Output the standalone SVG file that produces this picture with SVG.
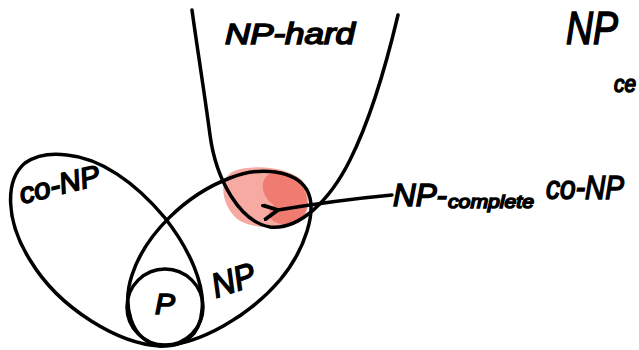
<svg xmlns="http://www.w3.org/2000/svg" width="639" height="350" viewBox="0 0 639 350">
<style>
.ln{fill:none;stroke:#000;stroke-width:3.5;stroke-linecap:round;stroke-linejoin:round}
.t{font-family:"Liberation Sans","DejaVu Sans",sans-serif;fill:#000;stroke:#000;stroke-width:1.6;font-style:italic}
</style>
<defs>
<marker id="ah" viewBox="0 0 10 10" refX="1" refY="5" markerWidth="5" markerHeight="5" orient="auto-start-reverse">
<path d="M9,1 L1,5 L9,9" fill="none" stroke="#000" stroke-width="2.2" stroke-linecap="round"/>
</marker>
</defs>
<rect width="639" height="350" fill="#fff"/>
<g id="npc-blob">
<path d="M232,172 C250,164 285,166 302,180 C312,195 310,218 296,224 C275,230 248,228 236,218 C222,205 218,180 232,172 Z" fill="#f6aaa1"/>
<path d="M270,174 C290,170 306,182 307,200 C308,215 300,224 282,224 C268,222 266,212 274,205 C262,198 258,180 270,174 Z" fill="#f07b71"/>
</g>
<g id="co-np">
<path class="ln" d="M67,155 C100,158 135,182 165,218 C190,250 205,285 202,310 C200,335 185,347 160,346 C120,344 60,310 30,260 C5,220 5,180 25,163 C38,154 52,153 67,155 Z"/>
<text class="t" x="22" y="204" font-size="29" textLength="82" lengthAdjust="spacingAndGlyphs" transform="rotate(-14 22 204)">co-NP</text>
</g>
<g id="np">
<path class="ln" d="M160,346 C130,340 122,305 132,275 C145,235 185,195 230,178 C260,166 295,170 307,190 C318,210 305,250 280,280 C250,315 200,345 160,346 Z"/>
<text class="t" x="216" y="298" font-size="34" textLength="44" lengthAdjust="spacingAndGlyphs" transform="rotate(-18 216 298)">NP</text>
</g>
<g id="p">
<circle class="ln" cx="165" cy="307" r="38"/>
<text class="t" x="155" y="314" font-size="30" textLength="20" lengthAdjust="spacingAndGlyphs">P</text>
</g>
<g id="np-hard">
<path class="ln" d="M192,10 C196,40 204,90 210,135 C216,180 240,222 270,227 C300,230 330,200 350,160 C370,120 385,70 398,15"/>
<text class="t" x="225" y="44" font-size="30" textLength="130" lengthAdjust="spacingAndGlyphs">NP-hard</text>
</g>
<g id="connectors">
<path class="ln" d="M392,195 C360,198 320,203 278,210" marker-end="url(#ah)"/>
</g>
<g id="np-complete">
<text class="t" x="393" y="206" font-size="32" textLength="54" lengthAdjust="spacingAndGlyphs">NP-</text>
<text class="t" x="448" y="208" font-size="19" textLength="86" lengthAdjust="spacingAndGlyphs">complete</text>
</g>
<g id="co-np-right">
<text class="t" x="546" y="199" font-size="34" textLength="78" lengthAdjust="spacingAndGlyphs">co-NP</text>
</g>
<g id="np-right">
<text class="t" x="566" y="44" font-size="46" textLength="52" lengthAdjust="spacingAndGlyphs">NP</text>
</g>
<g id="ce-right">
<text class="t" x="614" y="92" font-size="24" textLength="22" lengthAdjust="spacingAndGlyphs">ce</text>
</g>
</svg>
